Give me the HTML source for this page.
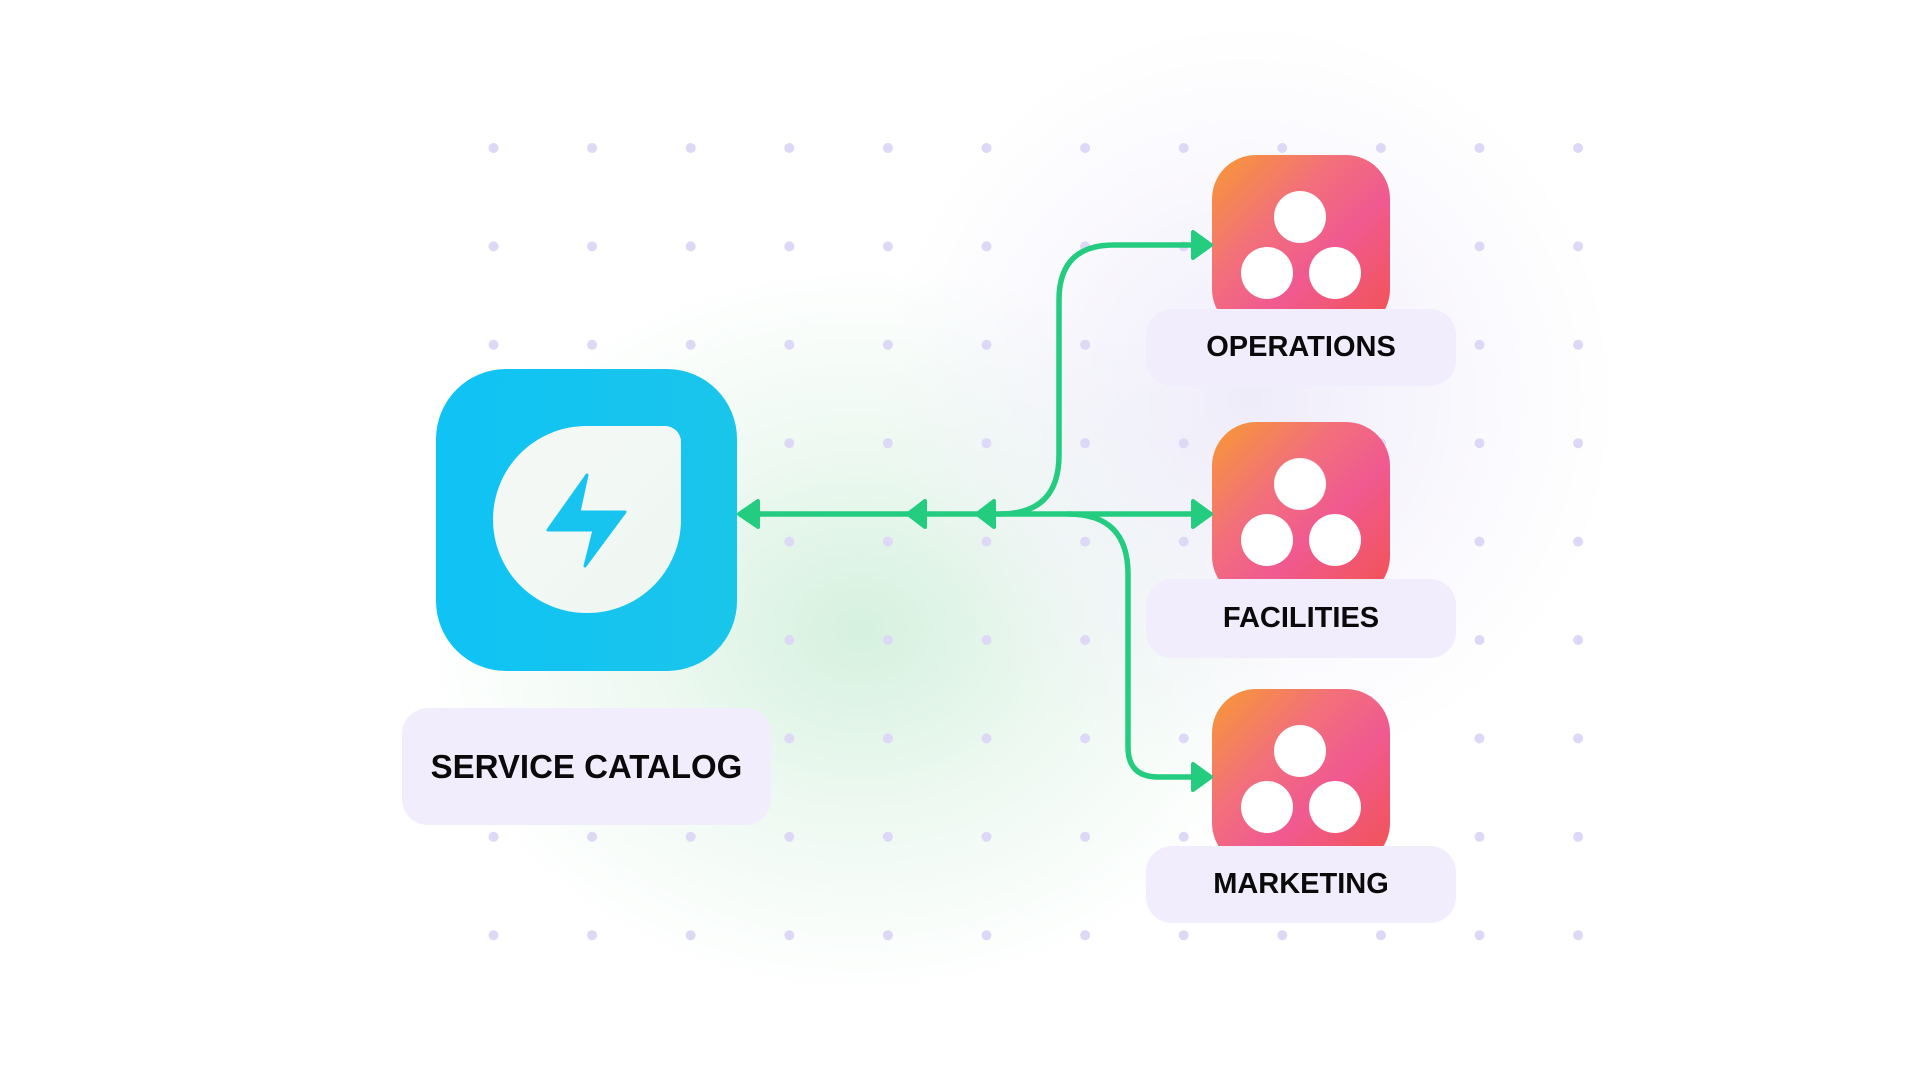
<!DOCTYPE html>
<html><head><meta charset="utf-8"><style>
html,body{margin:0;padding:0;width:1920px;height:1080px;overflow:hidden;background:#fff;font-family:"Liberation Sans",sans-serif}
.lbl{position:absolute;background:#f1edfc;border-radius:26px;display:flex;align-items:center;justify-content:center;font-weight:bold;color:#0a0a0a}
.node{position:absolute;width:178px;height:178px;border-radius:44px;background:linear-gradient(135deg,#f79a32 0%,#f2707a 35%,#f05a90 60%,#f2524e 100%)}
.node i{position:absolute;width:52px;height:52px;border-radius:50%;background:#fff}
</style></head><body>
<div style="position:absolute;left:420px;top:260px;width:880px;height:740px;background:radial-gradient(ellipse at center,rgba(200,236,212,0.75) 0%,rgba(220,243,228,0.5) 35%,rgba(255,255,255,0) 70%)"></div>
<div style="position:absolute;left:880px;top:20px;width:740px;height:760px;background:radial-gradient(ellipse at center,rgba(232,228,248,0.7) 0%,rgba(240,237,250,0.4) 40%,rgba(255,255,255,0) 70%)"></div>
<svg width="1920" height="1080" style="position:absolute;left:0;top:0">
<g fill="#ddd8f6" id="dots"></g>
</svg>
<script>
var g=document.getElementById('dots'),s='';
for(var i=0;i<12;i++)for(var j=0;j<9;j++){s+='<circle cx="'+(493.5+i*98.6)+'" cy="'+(148+j*98.4)+'" r="5"/>';}
g.innerHTML=s;
</script>
<div style="position:absolute;left:436px;top:369px;width:301px;height:302px;border-radius:70px;background:linear-gradient(90deg,#0fc3f5,#1ac5ea)"></div>
<div style="position:absolute;left:493px;top:426px;width:188px;height:187px;border-radius:94px 16px 94px 94px / 94px 16px 94px 94px;background:linear-gradient(135deg,#f6f8f6,#eef7f2)"></div>
<svg width="1920" height="1080" style="position:absolute;left:0;top:0">
<polygon points="587,475 548,530 594,530 585,566 625,512 579,512" fill="#16c4ef" stroke="#16c4ef" stroke-width="3" stroke-linejoin="round"/>
</svg>
<div class="lbl" style="left:402px;top:708px;width:369px;height:117px;font-size:33px">SERVICE CATALOG</div>

<div class="node" style="left:1212px;top:155px"><i style="left:62px;top:36px"></i><i style="left:29px;top:92px"></i><i style="left:97px;top:92px"></i></div>
<div class="node" style="left:1212px;top:422px"><i style="left:62px;top:36px"></i><i style="left:29px;top:92px"></i><i style="left:97px;top:92px"></i></div>
<div class="node" style="left:1212px;top:689px"><i style="left:62px;top:36px"></i><i style="left:29px;top:92px"></i><i style="left:97px;top:92px"></i></div>
<div class="lbl" style="left:1146px;top:309px;width:310px;height:77px;font-size:29px">OPERATIONS</div>
<div class="lbl" style="left:1146px;top:579px;width:310px;height:79px;font-size:29px">FACILITIES</div>
<div class="lbl" style="left:1146px;top:846px;width:310px;height:77px;font-size:29px">MARKETING</div>

<svg width="1920" height="1080" style="position:absolute;left:0;top:0">
<g fill="none" stroke="#24cc80" stroke-width="5.5" stroke-linecap="round">
<path d="M745 514 L1195 514"/>
<path d="M1000 514 Q1059 514 1059 455 L1059 300 Q1059 245 1114 245 L1195 245"/>
<path d="M1068 514 Q1128 514 1128 574 L1128 747 Q1128 777 1158 777 L1195 777"/>
</g>
<g fill="#24cc80" stroke="#24cc80" stroke-width="4" stroke-linejoin="round">
<polygon points="739,514 758,501 758,527"/>
<polygon points="908,514 925,501 925,527"/>
<polygon points="977,514 994,501 994,527"/>
<polygon points="1211,245 1193,232 1193,258"/>
<polygon points="1211,514 1193,501 1193,527"/>
<polygon points="1211,777 1193,764 1193,790"/>
</g>
</svg>
</body></html>
